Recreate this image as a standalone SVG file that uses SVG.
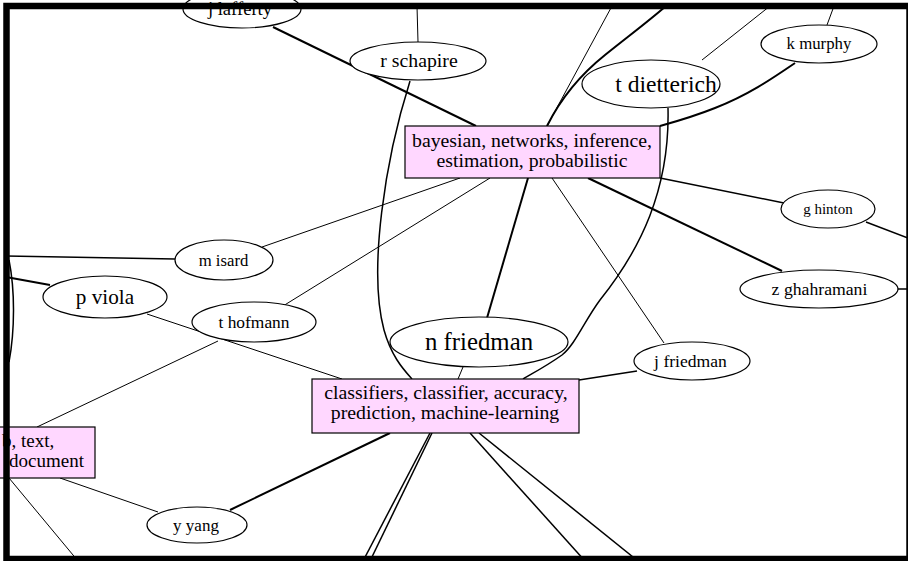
<svg xmlns="http://www.w3.org/2000/svg" width="908" height="561" viewBox="0 0 908 561">
<style>
.e{fill:#fff;stroke:#000;stroke-width:1.2}
.b{fill:#ffd7ff;stroke:#000;stroke-width:1.2}
.c path,.c line{fill:none;stroke:#000}
.t1{stroke-width:1}
.t2{stroke-width:1.5}
.t3{stroke-width:2}
</style>
<rect x="0" y="0" width="908" height="561" fill="#fff"/>
<g id="connectors" class="c">
<line class="t3" x1="273" y1="27" x2="476" y2="126"/>
<line class="t1" x1="418" y1="42" x2="417" y2="6"/>
<path class="t2" d="M410,81 C385,160 368,270 384,330 C391,355 402,368 412,379"/>
<path class="t2" d="M668,108 C670,190 640,250 600,300 C585,320 575,345 562,355 C548,365 535,372 523,379"/>
<line class="t1" x1="547" y1="126" x2="612" y2="6"/>
<path class="t3" d="M547,126 C560,100 580,75 605,55 C630,35 650,20 666,6"/>
<line class="t1" x1="702" y1="60" x2="770" y2="6"/>
<line class="t1" x1="827" y1="25" x2="834" y2="6"/>
<path class="t3" d="M795,63 C770,80 748,95 715,108 C695,116 678,121 660,126"/>
<line class="t1" x1="460" y1="178" x2="262" y2="247"/>
<line class="t1" x1="490" y1="178" x2="283" y2="306"/>
<line class="t3" x1="528" y1="178" x2="487" y2="318"/>
<line class="t1" x1="552" y1="178" x2="664" y2="343"/>
<line class="t3" x1="588" y1="178" x2="782" y2="271"/>
<line class="t2" x1="660" y1="178" x2="784" y2="203"/>
<line class="t2" x1="866" y1="222" x2="908" y2="238"/>
<line class="t2" x1="897" y1="289" x2="908" y2="289"/>
<line class="t2" x1="175" y1="259" x2="6" y2="256"/>
<line class="t3" x1="50" y1="285" x2="6" y2="277"/>
<path class="t2" d="M9,260 C15,290 15,330 9,362"/>
<line class="t1" x1="147" y1="314" x2="342" y2="379"/>
<line class="t1" x1="218" y1="341" x2="37" y2="427"/>
<line class="t1" x1="60" y1="478" x2="158" y2="512"/>
<line class="t1" x1="9" y1="478" x2="78" y2="561"/>
<line class="t3" x1="230" y1="510" x2="390" y2="433"/>
<line class="t2" x1="579" y1="380" x2="637" y2="371"/>
<line class="t1" x1="463" y1="367" x2="458" y2="379"/>
<line class="t2" x1="430" y1="433" x2="363" y2="561"/>
<line class="t2" x1="432" y1="433" x2="370" y2="561"/>
<line class="t2" x1="470" y1="433" x2="585" y2="561"/>
<line class="t2" x1="479" y1="433" x2="638" y2="561"/>
</g>
<g font-family="'Liberation Serif', 'DejaVu Serif', serif" text-anchor="middle" fill="#000">
<g id="n-jlafferty"><ellipse class="e" cx="242" cy="9" rx="59" ry="19"/><text x="240" y="15" font-size="18.6">j lafferty</text></g>
<g id="n-rschapire"><ellipse class="e" cx="418" cy="61" rx="68" ry="19"/><text x="419" y="67" font-size="19.8">r schapire</text></g>
<g id="n-tdietterich"><ellipse class="e" cx="651" cy="84" rx="69" ry="24"/><text x="666" y="92" font-size="23.6">t dietterich</text></g>
<g id="n-kmurphy"><ellipse class="e" cx="819" cy="44" rx="58" ry="19"/><text x="819" y="49" font-size="16.8">k murphy</text></g>
<g id="n-bayesian"><rect class="b" x="405" y="126" width="255" height="52"/><text x="532" y="147" font-size="19.8">bayesian, networks, inference,</text><text x="532" y="167" font-size="19.8">estimation, probabilistic</text></g>
<g id="n-ghinton"><ellipse class="e" cx="828" cy="209" rx="47" ry="19"/><text x="828" y="214" font-size="15">g hinton</text></g>
<g id="n-zghahramani"><ellipse class="e" cx="819" cy="289" rx="79" ry="19"/><text x="819.5" y="295" font-size="17.7">z ghahramani</text></g>
<g id="n-misard"><ellipse class="e" cx="224" cy="260" rx="49" ry="20"/><text x="223.5" y="265.5" font-size="16.7">m isard</text></g>
<g id="n-pviola"><ellipse class="e" cx="105" cy="297" rx="62" ry="21"/><text x="105" y="304" font-size="21.2">p viola</text></g>
<g id="n-thofmann"><ellipse class="e" cx="254" cy="322" rx="62" ry="20"/><text x="254" y="327.5" font-size="17.4">t hofmann</text></g>
<g id="n-nfriedman"><ellipse class="e" cx="479" cy="342" rx="89" ry="25"/><text x="479" y="350" font-size="24.8">n friedman</text></g>
<g id="n-jfriedman"><ellipse class="e" cx="692" cy="361" rx="58" ry="19"/><text x="690.5" y="366.5" font-size="17.6">j friedman</text></g>
<g id="n-classifiers"><rect class="b" x="312" y="379" width="267" height="54"/><text x="446" y="399" font-size="19.8">classifiers, classifier, accuracy,</text><text x="445" y="419" font-size="19.8">prediction, machine-learning</text></g>
<g id="n-text"><rect class="b" x="-10" y="427" width="105" height="51"/><text x="2" y="447" font-size="19" text-anchor="start">b, text,</text><text x="9" y="467" font-size="19" text-anchor="start">document</text></g>
<g id="n-yyang"><ellipse class="e" cx="197" cy="525" rx="50" ry="18"/><text x="196" y="530.5" font-size="17">y yang</text></g>
</g>
<rect x="6.5" y="6" width="903" height="553" fill="none" stroke="#000" stroke-width="6.5"/>
</svg>
